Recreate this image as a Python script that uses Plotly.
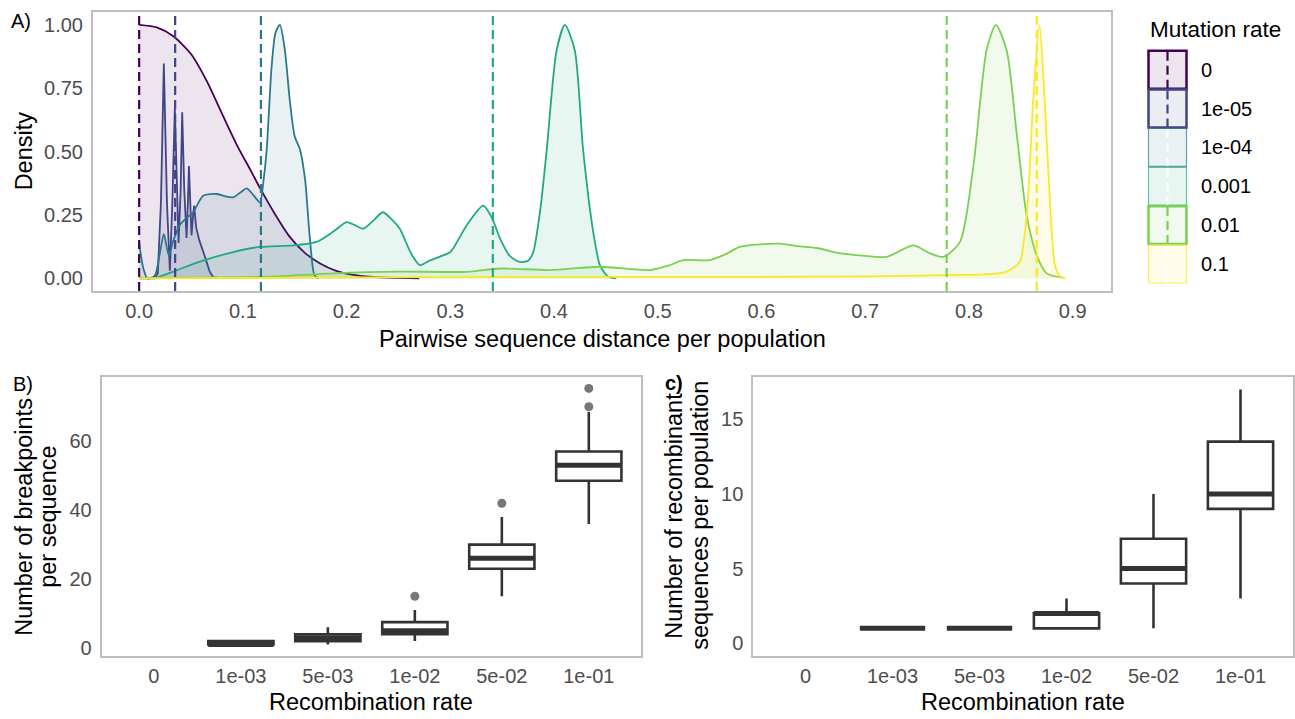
import plotly.graph_objects as go

W, H = 1295, 719
FONT = "Liberation Sans, Arial, sans-serif"

# ---------------- Panel A: scaled density of pairwise distances ----------------
mutation_rates = ["0", "1e-05", "1e-04", "0.001", "0.01", "0.1"]
viridis6 = ["#440154", "#414487", "#2A788E", "#22A884", "#7AD151", "#FDE725"]
mean_distance = [0.0, 0.0347, 0.1174, 0.341, 0.7786, 0.8654]
dist_ticks = [0.0, 0.1, 0.2, 0.3, 0.4, 0.5, 0.6, 0.7, 0.8, 0.9]
dist_tick_text = ["0.0", "0.1", "0.2", "0.3", "0.4", "0.5", "0.6", "0.7", "0.8", "0.9"]
dens_ticks = [0.0, 0.25, 0.5, 0.75, 1.0]
dens_tick_text = ["0.00", "0.25", "0.50", "0.75", "1.00"]

mu_0_x = [0.0, 0.017, 0.033, 0.05, 0.065, 0.081, 0.095, 0.107, 0.1174, 0.13, 0.145,
          0.16, 0.174, 0.19, 0.205, 0.225, 0.25, 0.27]
mu_0_y = [1.0, 0.99, 0.955, 0.885, 0.78, 0.64, 0.52, 0.43, 0.35, 0.26, 0.165,
          0.1, 0.06, 0.03, 0.015, 0.006, 0.002, 0.0]

mu_1e05_x = [0.0, 0.015, 0.018, 0.021, 0.0238, 0.0268, 0.0296, 0.032, 0.0344, 0.0365,
             0.038, 0.04, 0.0415, 0.0435, 0.0457, 0.047, 0.048, 0.0493, 0.0505, 0.052,
             0.053, 0.055, 0.058, 0.0634, 0.068, 0.0714, 0.075]
mu_1e05_y = [0.0, 0.0, 0.02, 0.3, 0.848, 0.3, 0.03, 0.3, 0.67, 0.3,
             0.14, 0.35, 0.655, 0.35, 0.16, 0.3, 0.443, 0.3, 0.17, 0.25,
             0.287, 0.2, 0.15, 0.086, 0.027, 0.005, 0.0]

mu_1e04_x = [0.0, 0.004, 0.008, 0.015, 0.02, 0.0238, 0.0286, 0.033, 0.039, 0.046, 0.052,
             0.0617, 0.0746, 0.082, 0.0906, 0.098, 0.1036, 0.11, 0.1164, 0.12, 0.123,
             0.1277, 0.1315, 0.1357, 0.1405, 0.1453, 0.150, 0.155, 0.160, 0.1646, 0.169, 0.173]
mu_1e04_y = [0.14, 0.04, 0.0, 0.01, 0.1, 0.176, 0.09, 0.15, 0.21, 0.24, 0.26,
             0.326, 0.333, 0.325, 0.32, 0.34, 0.355, 0.33, 0.3, 0.39, 0.51,
             0.835, 0.97, 1.0, 0.9, 0.7, 0.56, 0.51, 0.39, 0.157, 0.013, 0.0]

mu_1e03_x = [0.015, 0.033, 0.0585, 0.0906, 0.1164, 0.1485, 0.171, 0.187, 0.2, 0.208,
             0.216, 0.225, 0.235, 0.243, 0.2513, 0.262, 0.2707, 0.28, 0.29, 0.3,
             0.3157, 0.3317, 0.34, 0.348, 0.357, 0.367, 0.375, 0.38, 0.387, 0.393,
             0.4025, 0.4105, 0.42, 0.428, 0.4378, 0.4443, 0.452, 0.46]
mu_1e03_y = [0.0, 0.027, 0.066, 0.104, 0.124, 0.13, 0.144, 0.184, 0.222, 0.21,
             0.196, 0.225, 0.261, 0.235, 0.196, 0.1, 0.052, 0.07, 0.086, 0.104,
             0.209, 0.287, 0.24, 0.157, 0.09, 0.065, 0.07, 0.104, 0.28, 0.509,
             0.9, 1.0, 0.9, 0.509, 0.183, 0.052, 0.007, 0.0]

mu_1e02_x = [0.0, 0.05, 0.123, 0.187, 0.25, 0.3157, 0.348, 0.396, 0.4443, 0.4925,
             0.51, 0.5246, 0.55, 0.565, 0.579, 0.595, 0.6178, 0.635, 0.653, 0.675,
             0.695, 0.7207, 0.7464, 0.762, 0.7753, 0.7914, 0.8043, 0.817, 0.826, 0.8364,
             0.846, 0.8557, 0.8654, 0.875, 0.891]
mu_1e02_y = [0.0, 0.003, 0.007, 0.02, 0.027, 0.026, 0.039, 0.033, 0.046, 0.033,
             0.05, 0.072, 0.072, 0.095, 0.124, 0.133, 0.137, 0.127, 0.12, 0.1,
             0.091, 0.085, 0.13, 0.1, 0.085, 0.144, 0.443, 0.9, 1.0, 0.9,
             0.574, 0.248, 0.091, 0.02, 0.003]

mu_1e01_x = [0.0, 0.2, 0.4, 0.6, 0.7, 0.7786, 0.81, 0.836, 0.849, 0.853, 0.857,
             0.862, 0.868, 0.873, 0.878, 0.883, 0.888, 0.893]
mu_1e01_y = [0.0, 0.004, 0.006, 0.006, 0.008, 0.013, 0.015, 0.026, 0.065, 0.15, 0.313,
             0.704, 1.0, 0.704, 0.313, 0.052, 0.007, 0.0]

density_curves = [(mu_0_x, mu_0_y), (mu_1e05_x, mu_1e05_y), (mu_1e04_x, mu_1e04_y),
                  (mu_1e03_x, mu_1e03_y), (mu_1e02_x, mu_1e02_y), (mu_1e01_x, mu_1e01_y)]

# ---------------- Panels B and C: recombination summaries ----------------
recomb_labels = ["0", "1e-03", "5e-03", "1e-02", "5e-02", "1e-01"]

# B) breakpoints per sequence (no recombinants at rate 0)
bp_lower = [None, 1, 1, 2, 15, 36]
bp_q1 = [None, 1, 2, 4, 23, 48.5]
bp_median = [None, 1, 3, 5, 26, 53]
bp_q3 = [None, 2, 4, 7.5, 30, 57]
bp_upper = [None, 2, 6, 11, 38, 68.5]
bp_outlier_rate = ["1e-02", "5e-02", "1e-01", "1e-01"]
bp_outlier_value = [15, 42, 70, 75.3]
bp_ticks = [0, 20, 40, 60]

# C) recombinant sequences per population
rs_lower = [None, 1, 1, 1, 1, 3]
rs_q1 = [None, 1, 1, 1, 4, 9]
rs_median = [None, 1, 1, 2, 5, 10]
rs_q3 = [None, 1, 1, 2, 7, 13.5]
rs_upper = [None, 1, 1, 3, 10, 17]
rs_ticks = [0, 5, 10, 15]


def rgba(hex_color, a):
    h = hex_color.lstrip("#")
    r, g, b = int(h[0:2], 16), int(h[2:4], 16), int(h[4:6], 16)
    return f"rgba({r},{g},{b},{a})"


def px(x):
    return x / W


def py(y):
    return 1 - y / H


fig = go.Figure()

# density areas, drawn in factor order so higher rates sit on top
for i, (xs, ys) in enumerate(density_curves):
    col = viridis6[i]
    fig.add_trace(go.Scatter(
        x=xs, y=ys, mode="lines",
        line=dict(color=col, width=1.8, shape="linear" if i == 1 else "spline", smoothing=0.7),
        fill="tozeroy", fillcolor=rgba(col, 0.1),
        xaxis="x", yaxis="y", showlegend=False, hoverinfo="skip"))

# mean distance per mutation rate
for i, m in enumerate(mean_distance):
    fig.add_shape(type="line", xref="x", yref="y domain", x0=m, x1=m, y0=0, y1=1,
                  line=dict(color=viridis6[i], width=2.2, dash="9px,5px"), layer="above")

BOX_W = 0.75
BOX_LINE = "#333333"


def add_boxes(lower, q1, med, q3, upper, xa, ya):
    idx = [i for i, v in enumerate(med) if v is not None]
    fig.add_trace(go.Box(
        x=idx, q1=[q1[i] for i in idx], median=[med[i] for i in idx], q3=[q3[i] for i in idx],
        lowerfence=[lower[i] for i in idx], upperfence=[upper[i] for i in idx],
        width=BOX_W, whiskerwidth=0, fillcolor="white", boxpoints=False,
        line=dict(color=BOX_LINE, width=2.6),
        xaxis=xa, yaxis=ya, showlegend=False, hoverinfo="skip"))
    mx, my = [], []
    for i in idx:
        mx += [i - BOX_W / 2, i + BOX_W / 2, None]
        my += [med[i], med[i], None]
    fig.add_trace(go.Scatter(x=mx, y=my, mode="lines", line=dict(color=BOX_LINE, width=5),
                             xaxis=xa, yaxis=ya, showlegend=False, hoverinfo="skip"))


add_boxes(bp_lower, bp_q1, bp_median, bp_q3, bp_upper, "x2", "y2")
fig.add_trace(go.Scatter(
    x=[recomb_labels.index(r) for r in bp_outlier_rate], y=bp_outlier_value, mode="markers",
    marker=dict(color="rgba(85,85,85,0.8)", size=9, line=dict(width=0)),
    xaxis="x2", yaxis="y2", showlegend=False, hoverinfo="skip"))
add_boxes(rs_lower, rs_q1, rs_median, rs_q3, rs_upper, "x3", "y3")

tick_font = dict(family=FONT, size=20, color="#4D4D4D")
frame = dict(showgrid=False, zeroline=False, showline=True, mirror=True,
             linecolor="#BEBEBE", linewidth=2, ticks="", tickfont=tick_font)

fig.update_layout(
    width=W, height=H, margin=dict(l=0, r=0, t=0, b=0),
    paper_bgcolor="white", plot_bgcolor="white",
    font=dict(family=FONT, color="black"),
    xaxis=dict(domain=[px(93), px(1111)], range=[-0.0445, 0.937], anchor="y",
               tickvals=dist_ticks, ticktext=dist_tick_text, ticklabelstandoff=1, **frame),
    yaxis=dict(domain=[py(292.3), py(12.3)], range=[-0.05, 1.05], anchor="x",
               tickvals=dens_ticks, ticktext=dens_tick_text, ticklabelstandoff=4, **frame),
    xaxis2=dict(domain=[px(101.7), px(641)], range=[-0.6, 5.6], anchor="y2",
                tickvals=list(range(len(recomb_labels))), ticktext=recomb_labels,
                ticklabelstandoff=1, **frame),
    yaxis2=dict(domain=[py(659), py(378.3)], range=[-2.4, 78.7], anchor="x2",
                tickvals=bp_ticks, ticktext=[str(t) for t in bp_ticks], ticklabelstandoff=4, **frame),
    xaxis3=dict(domain=[px(753.3), px(1292.7)], range=[-0.6, 5.6], anchor="y3",
                tickvals=list(range(len(recomb_labels))), ticktext=recomb_labels,
                ticklabelstandoff=1, **frame),
    yaxis3=dict(domain=[py(659), py(378.3)], range=[-0.87, 17.85], anchor="x3",
                tickvals=rs_ticks, ticktext=[str(t) for t in rs_ticks], ticklabelstandoff=4, **frame),
)

ann = []


def text(x, y, s, size=23.5, angle=0, xanchor="center", bold=False, color="black"):
    ann.append(dict(x=px(x), y=py(y), xref="paper", yref="paper", text=f"<b>{s}</b>" if bold else s,
                    showarrow=False, textangle=angle, xanchor=xanchor, yanchor="middle",
                    font=dict(family=FONT, size=size, color=color)))


# axis titles
text(602, 340, "Pairwise sequence distance per population")
text(24, 152, "Density", angle=-90)
text(371, 705, "Recombination rate")
text(1023, 705, "Recombination rate")
text(24, 519, "Number of breakpoints", angle=-90)
text(48, 519, "per sequence", angle=-90)
text(674, 518, "Number of recombinant", angle=-90)
text(700, 518, "sequences per population", angle=-90)

# panel tags
text(9, 21, "A)", size=20, xanchor="left")
text(11, 386, "B)", size=20, xanchor="left")
text(663, 385, "c)", size=20, xanchor="left", bold=True)

# legend: fill + outline keys with the dashed mean marker through each key
text(1148, 30, "Mutation rate", size=22.5, xanchor="left")
key_x0, key_x1 = 1148.5, 1186.5
key_h = 39
key_top = 51
strong_key = [True, True, False, False, True, False]
for i, lab in enumerate(mutation_rates):
    col = viridis6[i]
    y0 = key_top + i * key_h
    y1 = y0 + key_h - 1
    fig.add_shape(type="rect", xref="paper", yref="paper",
                  x0=px(key_x0), x1=px(key_x1), y0=py(y1), y1=py(y0),
                  fillcolor=rgba(col, 0.1),
                  line=dict(color=col if strong_key[i] else rgba(col, 0.7),
                            width=2.5 if strong_key[i] else 1.2))
    xm = (key_x0 + key_x1) / 2
    fig.add_shape(type="line", xref="paper", yref="paper", x0=px(xm), x1=px(xm),
                  y0=py(y1), y1=py(y0),
                  line=dict(color=col if strong_key[i] else "rgba(255,255,255,0.8)",
                            width=2.2, dash="9px,5px"))
    text(1199, (y0 + y1) / 2, lab, size=20, xanchor="left")

fig.update_layout(annotations=ann)
fig.write_html("out.html")
